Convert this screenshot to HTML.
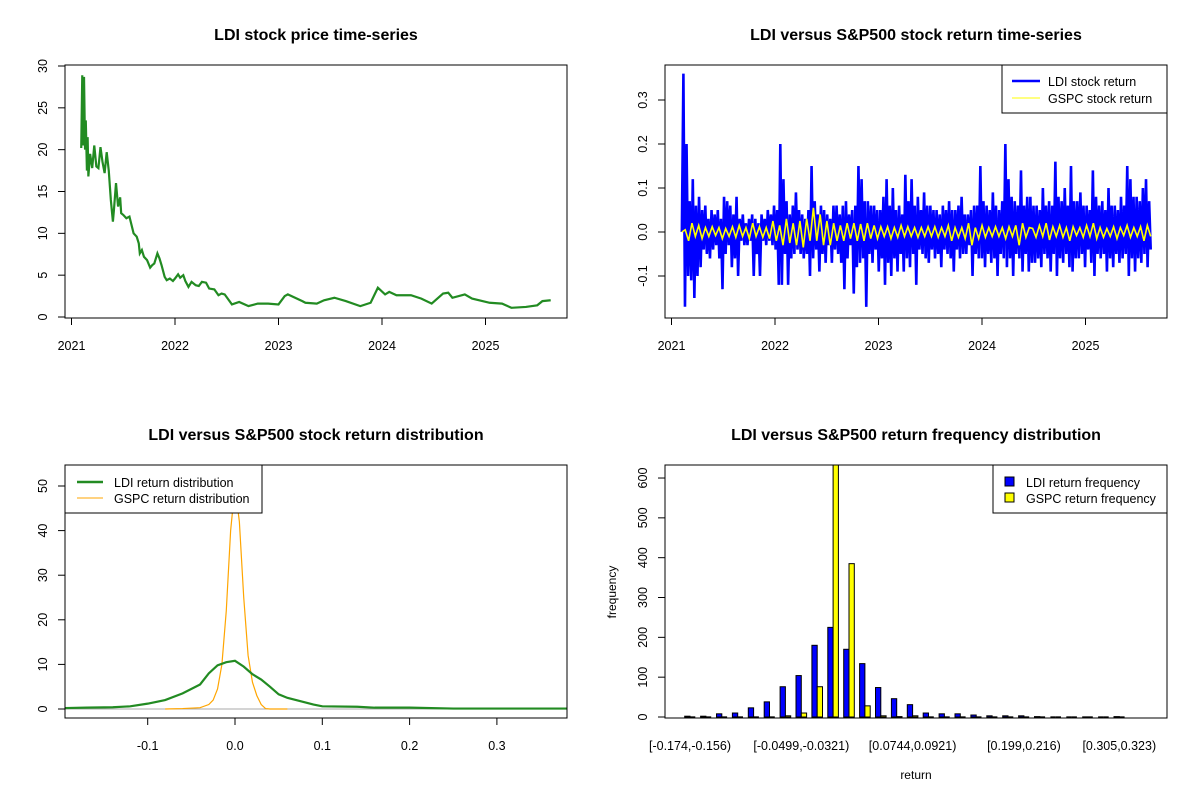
<!DOCTYPE html>
<html><head><meta charset="utf-8"><style>
body{margin:0;background:#fff}
svg{display:block;font-family:"Liberation Sans",Arial,sans-serif}
.t{font-weight:bold;font-size:16px}
.tk{font-size:12.5px}
</style></head><body>
<svg id="s" width="1200" height="800" viewBox="0 0 1200 800">
<defs>
<clipPath id="c1"><rect x="65" y="65" width="502" height="253"/></clipPath>
<clipPath id="c2"><rect x="665" y="65" width="502" height="253"/></clipPath>
<clipPath id="c3"><rect x="65" y="465" width="502" height="253"/></clipPath>
<clipPath id="c4"><rect x="665" y="465" width="502" height="253"/></clipPath>
</defs>
<text class="t" x="316" y="40" text-anchor="middle">LDI stock price time-series</text>
<text class="t" x="916" y="40" text-anchor="middle">LDI versus S&amp;P500 stock return time-series</text>
<text class="t" x="316" y="440" text-anchor="middle">LDI versus S&amp;P500 stock return distribution</text>
<text class="t" x="916" y="440" text-anchor="middle">LDI versus S&amp;P500 return frequency distribution</text>
<g id="g1"></g>
<g id="g2"></g>
<g id="g3"></g>
<g id="g4"></g>
</svg>
<script>
const years=[2021,2022,2023,2024,2025];
const priceT=[2021.094,2021.104,2021.114,2021.121,2021.131,2021.138,2021.149,2021.156,2021.163,2021.18,2021.2,2021.22,2021.24,2021.26,2021.28,2021.3,2021.32,2021.34,2021.36,2021.38,2021.40,2021.41,2021.43,2021.45,2021.47,2021.48,2021.5,2021.53,2021.56,2021.58,2021.6,2021.63,2021.65,2021.66,2021.68,2021.7,2021.73,2021.76,2021.78,2021.8,2021.83,2021.85,2021.87,2021.9,2021.92,2021.95,2021.98,2022.0,2022.03,2022.05,2022.08,2022.1,2022.13,2022.16,2022.2,2022.23,2022.26,2022.3,2022.33,2022.38,2022.42,2022.45,2022.48,2022.55,2022.62,2022.71,2022.8,2022.9,2023.0,2023.06,2023.09,2023.23,2023.26,2023.37,2023.44,2023.54,2023.65,2023.79,2023.89,2023.96,2024.03,2024.07,2024.14,2024.28,2024.38,2024.48,2024.59,2024.64,2024.68,2024.8,2024.87,2024.97,2025.04,2025.16,2025.25,2025.39,2025.5,2025.55,2025.63];
const price=[20.2,28.9,20.5,28.7,20,23.5,17.5,21.5,16.8,19.5,17.8,20.5,18,17.8,20.3,18.5,17.2,19.7,17.5,14,11.4,12.8,16,13.2,14.3,12.4,12.2,11.8,12,11,10,9.6,8.8,7.6,8,7.2,6.8,5.9,6.2,6.4,7.6,7,6.2,4.8,4.4,4.6,4.3,4.6,5.1,4.7,5,4.3,3.6,4.2,3.8,3.7,4.2,4.1,3.4,3.3,2.6,2.8,2.7,1.5,1.8,1.3,1.6,1.6,1.5,2.5,2.7,1.9,1.7,1.6,2.0,2.3,1.9,1.3,1.7,3.5,2.7,3.0,2.6,2.6,2.2,1.6,2.8,2.9,2.3,2.7,2.2,1.9,1.7,1.6,1.1,1.2,1.4,1.9,2.0];
const retStart=2021.10, retEnd=2025.63;
const ldiRet=[0,0.36,-0.17,0.2,-0.1,0.07,-0.11,0.12,-0.15,0.06,-0.1,0.08,-0.08,0.05,-0.04,0.06,-0.05,0.03,-0.06,0.05,-0.04,0.04,-0.03,0.05,-0.06,0.03,-0.13,0.08,-0.05,0.07,-0.03,0.06,-0.08,0.04,-0.06,0.08,-0.1,0.03,-0.02,0.04,-0.03,0.02,-0.03,0.03,-0.02,0.04,-0.1,0.03,-0.05,0.02,-0.1,0.04,-0.02,0.03,-0.03,0.05,-0.02,0.04,-0.03,0.06,-0.04,0.05,-0.12,0.2,-0.12,0.12,-0.05,0.07,-0.12,0.04,-0.06,0.06,-0.05,0.09,-0.04,0.05,-0.05,0.04,-0.06,0.03,-0.05,0.05,-0.1,0.15,-0.06,0.07,-0.04,0.04,-0.09,0.06,-0.05,0.05,-0.07,0.04,-0.03,0.03,-0.07,0.06,-0.04,0.06,-0.05,0.04,-0.07,0.06,-0.13,0.07,-0.06,0.04,-0.03,0.05,-0.14,0.06,-0.08,0.15,-0.07,0.12,-0.06,0.07,-0.17,0.07,-0.05,0.06,-0.07,0.06,-0.04,0.05,-0.09,0.05,-0.06,0.08,-0.12,0.12,-0.07,0.06,-0.1,0.1,-0.06,0.05,-0.09,0.06,-0.05,0.04,-0.09,0.13,-0.06,0.07,-0.08,0.12,-0.05,0.06,-0.12,0.08,-0.04,0.05,-0.05,0.09,-0.06,0.06,-0.07,0.06,-0.04,0.05,-0.06,0.05,-0.05,0.04,-0.08,0.06,-0.04,0.05,-0.05,0.07,-0.06,0.05,-0.09,0.05,-0.04,0.06,-0.06,0.08,-0.05,0.04,-0.05,0.04,-0.03,0.05,-0.1,0.06,-0.05,0.06,-0.06,0.15,-0.06,0.07,-0.08,0.06,-0.05,0.05,-0.07,0.09,-0.06,0.06,-0.1,0.05,-0.05,0.07,-0.06,0.2,-0.08,0.12,-0.06,0.08,-0.1,0.07,-0.05,0.06,-0.06,0.14,-0.09,0.06,-0.05,0.08,-0.09,0.08,-0.07,0.06,-0.07,0.06,-0.06,0.05,-0.08,0.1,-0.05,0.06,-0.06,0.07,-0.09,0.06,-0.05,0.16,-0.1,0.08,-0.06,0.07,-0.07,0.1,-0.05,0.06,-0.08,0.15,-0.09,0.07,-0.06,0.07,-0.06,0.09,-0.05,0.06,-0.08,0.06,-0.04,0.05,-0.07,0.14,-0.1,0.08,-0.05,0.06,-0.06,0.07,-0.05,0.05,-0.09,0.1,-0.06,0.06,-0.08,0.06,-0.05,0.05,-0.07,0.08,-0.06,0.06,-0.05,0.15,-0.1,0.12,-0.06,0.08,-0.09,0.08,-0.06,0.07,-0.07,0.1,-0.05,0.12,-0.08,0.07,-0.04];
const gspcRet=[0,0.005,-0.02,0.02,-0.01,0.015,-0.015,0.01,-0.01,0.012,-0.008,0.01,-0.015,0.008,-0.01,0.012,-0.012,0.015,-0.01,0.01,-0.015,0.02,-0.01,0.012,-0.012,0.01,-0.015,0.025,-0.02,0.015,-0.03,0.03,-0.025,0.02,-0.03,0.025,-0.035,0.03,-0.02,0.055,-0.02,0.04,-0.03,0.025,-0.03,0.02,-0.02,0.015,-0.02,0.02,-0.015,0.02,-0.02,0.018,-0.02,0.02,-0.015,0.015,-0.015,0.012,-0.01,0.012,-0.015,0.01,-0.012,0.015,-0.01,0.012,-0.01,0.01,-0.012,0.01,-0.01,0.012,-0.01,0.012,-0.012,0.01,-0.01,0.015,-0.02,0.01,-0.012,0.01,-0.015,0.02,-0.03,0.01,-0.015,0.015,-0.012,0.01,-0.01,0.012,-0.01,0.01,-0.015,0.012,-0.01,0.015,-0.03,0.02,-0.012,0.01,0.008,-0.012,0.015,-0.01,0.02,-0.018,0.012,-0.01,0.015,-0.012,0.01,-0.02,0.012,-0.008,0.01,-0.012,0.015,-0.01,0.02,-0.015,0.01,-0.012,0.008,-0.01,0.012,-0.015,0.01,-0.008,0.015,-0.012,0.01,-0.01,0.012,-0.02,0.015,-0.01];
const densX=[-0.196,-0.17,-0.14,-0.12,-0.1,-0.08,-0.06,-0.04,-0.03,-0.02,-0.01,0,0.01,0.02,0.03,0.04,0.05,0.06,0.07,0.08,0.09,0.1,0.14,0.16,0.2,0.25,0.38];
const ldiDens=[0.2,0.3,0.4,0.6,1.2,2,3.5,5.5,8,9.8,10.5,10.8,9.5,7.8,6.6,5,3.3,2.5,2,1.5,1,0.6,0.5,0.3,0.3,0.1,0.1];
const gspcX=[-0.08,-0.06,-0.04,-0.03,-0.025,-0.02,-0.015,-0.01,-0.005,0,0.005,0.01,0.015,0.02,0.025,0.03,0.035,0.04,0.06];
const gspcDens=[0,0.1,0.3,1,2,4.5,10,22,40,50,42,25,12,6,3,1,0.1,0,0];
const densTicks=[-0.1,0,0.1,0.2,0.3];
const binLabels=["[-0.174,-0.156)","[-0.0499,-0.0321)","[0.0744,0.0921)","[0.199,0.216)","[0.305,0.323)"];
const binLabelIdx=[0,7,14,21,27];
const ldiFreq=[2,2,8,10,23,38,76,104,180,225,170,134,74,46,31,10,8,8,5,3,3,3,1,0,0,0,0,1];
const gspcFreq=[0,0,0,0,0,0,3,10,76,660,385,28,3,1,3,0,0,0,0,0,0,0,0,0,0,0,0,0];
const freqTicks=[0,100,200,300,400,500,600];

const NS="http://www.w3.org/2000/svg";
function mk(p,tag,at,txt){const e=document.createElementNS(NS,tag);for(const k in at)e.setAttribute(k,at[k]);if(txt!==undefined)e.textContent=txt;p.appendChild(e);return e;}
function box(g,x0,y0){const r=mk(g,'rect',{x:x0,y:y0,width:502,height:253,fill:'none',stroke:'#000','stroke-width':1});}
function ytick(g,xl,y,lab){mk(g,'line',{x1:xl,x2:xl-7,y1:y,y2:y,stroke:'#000'});const t=mk(g,'text',{x:xl-18,y:y,'text-anchor':'middle',class:'tk',transform:`rotate(-90 ${xl-18} ${y})`},lab);}
function xtick(g,x,yb,lab){mk(g,'line',{x1:x,x2:x,y1:yb,y2:yb+7,stroke:'#000'});const t=mk(g,'text',{x:x,y:yb+32,'text-anchor':'middle',class:'tk'},lab);}
const xYear=(y,off)=>71.5+off+(y-2021)*103.5;

// Panel 1
const g1=document.getElementById('g1');
const yP=v=>318-(v+0.12)*(253/30.24);
years.forEach(y=>xtick(g1,xYear(y,0),318,String(y)));
[0,5,10,15,20,25,30].forEach(v=>ytick(g1,65,yP(v),String(v)));
const pl=mk(g1,'polyline',{points:priceT.map((t,i)=>xYear(t,0)+','+yP(price[i])).join(' '),fill:'none',stroke:'#228B22','stroke-width':2.2,'clip-path':'url(#c1)'});

box(g1,65,65);

// Panel 2
const g2=document.getElementById('g2');
const yR=v=>232-v*440;
const tR=(i,n)=>retStart+i*(retEnd-retStart)/(n-1);
years.forEach(y=>xtick(g2,xYear(y,600),318,String(y)));
[-0.1,0,0.1,0.2,0.3].forEach(v=>ytick(g2,665,yR(v),v.toFixed(1)));
const bl=mk(g2,'polyline',{points:ldiRet.map((v,i)=>xYear(tR(i,ldiRet.length),600)+','+yR(v)).join(' '),fill:'none',stroke:'#0000ff','stroke-width':2.6,'clip-path':'url(#c2)'});

const yl=mk(g2,'polyline',{points:gspcRet.map((v,i)=>xYear(tR(i,gspcRet.length),600)+','+yR(v)).join(' '),fill:'none',stroke:'#ffff00','stroke-width':1.6,'clip-path':'url(#c2)'});

box(g2,665,65);
const lg2=mk(g2,'g',{});
mk(lg2,'rect',{x:1002,y:65,width:165,height:48,fill:'#fff',stroke:'#000'});
mk(lg2,'line',{x1:1012,x2:1040,y1:81,y2:81,stroke:'#0000ff','stroke-width':2.4});
mk(lg2,'line',{x1:1012,x2:1040,y1:98,y2:98,stroke:'#ffff00','stroke-width':1});
mk(lg2,'text',{x:1048,y:86,class:'tk'},'LDI stock return');
mk(lg2,'text',{x:1048,y:103,class:'tk'},'GSPC stock return');

// Panel 3
const g3=document.getElementById('g3');
const xD=v=>235+v*873;
const yD=v=>709-v*4.46;
densTicks.forEach(v=>xtick(g3,xD(v),718,v.toFixed(1)));
[0,10,20,30,40,50].forEach(v=>ytick(g3,65,yD(v),String(v)));
mk(g3,'line',{x1:65,x2:567,y1:yD(0),y2:yD(0),stroke:'#aaa'});
const gd=mk(g3,'polyline',{points:gspcX.map((x,i)=>xD(x)+','+yD(gspcDens[i])).join(' '),fill:'none',stroke:'#FFA500','stroke-width':1.2,'clip-path':'url(#c3)'});

const ld=mk(g3,'polyline',{points:densX.map((x,i)=>xD(x)+','+yD(ldiDens[i])).join(' '),fill:'none',stroke:'#228B22','stroke-width':2.2,'clip-path':'url(#c3)'});

box(g3,65,465);
const lg3=mk(g3,'g',{});
mk(lg3,'rect',{x:65,y:465,width:197,height:48,fill:'#fff',stroke:'#000'});
mk(lg3,'line',{x1:77,x2:103,y1:482,y2:482,stroke:'#228B22','stroke-width':2.4});
mk(lg3,'line',{x1:77,x2:103,y1:498,y2:498,stroke:'#FFA500','stroke-width':1});
mk(lg3,'text',{x:114,y:487,class:'tk'},'LDI return distribution');
mk(lg3,'text',{x:114,y:503,class:'tk'},'GSPC return distribution');

// Panel 4
const g4=document.getElementById('g4');
const xB=i=>684.7+i*15.9;
const bw=5.3;
const yH=v=>717-v*0.3983;
function bar(v,x,fill,name){
  if(v===0){const l=mk(g4,'line',{x1:x,x2:x+bw,y1:yH(0),y2:yH(0),stroke:'#000','stroke-width':1.3});return;}
  const r=mk(g4,'rect',{x:x,y:yH(v),width:bw,height:v*0.3983,fill:fill,stroke:'#000','stroke-width':1,'clip-path':'url(#c4)'});
  
}
ldiFreq.forEach((v,i)=>bar(v,xB(i),'#0000ff','ldi-freq-bar'));
gspcFreq.forEach((v,i)=>bar(v,xB(i)+bw,'#ffff00','gspc-freq-bar'));
binLabelIdx.forEach((b,k)=>{const t=mk(g4,'text',{x:xB(b)+bw,y:750,'text-anchor':'middle',class:'tk'},binLabels[k]);});
freqTicks.forEach(v=>ytick(g4,665,yH(v),String(v)));
box(g4,665,465);
const lg4=mk(g4,'g',{});
mk(lg4,'rect',{x:993,y:465,width:174,height:48,fill:'#fff',stroke:'#000'});
mk(lg4,'rect',{x:1005,y:477,width:9,height:9,fill:'#0000ff',stroke:'#000'});
mk(lg4,'rect',{x:1005,y:493,width:9,height:9,fill:'#ffff00',stroke:'#000'});
mk(lg4,'text',{x:1026,y:487,class:'tk'},'LDI return frequency');
mk(lg4,'text',{x:1026,y:503,class:'tk'},'GSPC return frequency');
const xt=mk(g4,'text',{x:916,y:779,'text-anchor':'middle',style:'font-size:12px'},'return');

const yt=mk(g4,'text',{x:616,y:592,'text-anchor':'middle',style:'font-size:12px',transform:'rotate(-90 616 592)'},'frequency');

</script>
</body></html>
